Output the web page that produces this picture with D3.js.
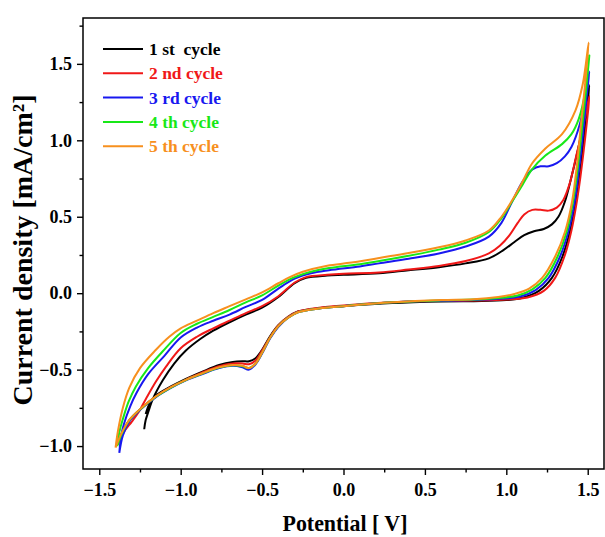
<!DOCTYPE html>
<html>
<head>
<meta charset="utf-8">
<script src="https://cdn.jsdelivr.net/npm/d3@7"></script>
<style>
  body { margin: 0; background: #fff; }
  svg { display: block; }
  text { font-family: "Liberation Serif", "Times New Roman", serif; font-weight: bold; }
</style>
</head>
<body>
<svg id="chart" width="605" height="537"></svg>
<script>
// Cyclic voltammograms, five consecutive cycles: [potential (V), current density (mA/cm²)]
// Each cycle = anodic sweep (left vertex -> +1.5 V) followed by cathodic sweep back.

const cycle1Anodic = [[-1.224,-0.89],[-1.215,-0.83],[-1.20,-0.78],[-1.17,-0.69],[-1.11,-0.57],[-1.04,-0.46],[-0.968,-0.375],[-0.88,-0.30],[-0.8,-0.245],[-0.7,-0.19],[-0.6,-0.14],[-0.5,-0.095],[-0.4,-0.025],[-0.3,0.065],[-0.23,0.10],[-0.1,0.115],[0.0,0.12],[0.218,0.13],[0.4,0.15],[0.586,0.17],[0.75,0.195],[0.893,0.228],[0.98,0.28],[1.05,0.335],[1.11,0.38],[1.17,0.405],[1.23,0.42],[1.28,0.45],[1.32,0.50],[1.36,0.60],[1.40,0.76],[1.45,0.99],[1.51,1.36]];
const cycle1Cathodic = [[1.51,1.36],[1.49,1.15],[1.47,0.95],[1.45,0.76],[1.425,0.58],[1.39,0.40],[1.345,0.24],[1.28,0.10],[1.2,0.015],[1.1,-0.03],[1.0,-0.045],[0.8,-0.052],[0.6,-0.055],[0.3,-0.065],[0.0,-0.085],[-0.15,-0.098],[-0.28,-0.12],[-0.34,-0.155],[-0.40,-0.21],[-0.45,-0.28],[-0.50,-0.37],[-0.54,-0.425],[-0.58,-0.445],[-0.62,-0.445],[-0.68,-0.45],[-0.764,-0.47],[-0.87,-0.515],[-0.968,-0.56],[-1.06,-0.61],[-1.152,-0.67],[-1.19,-0.72],[-1.215,-0.79]];

const cycle2Anodic = [[-1.385,-0.99],[-1.35,-0.91],[-1.30,-0.84],[-1.26,-0.78],[-1.213,-0.69],[-1.15,-0.575],[-1.09,-0.48],[-1.0,-0.36],[-0.9,-0.285],[-0.8,-0.23],[-0.7,-0.18],[-0.6,-0.13],[-0.5,-0.085],[-0.4,-0.02],[-0.3,0.07],[-0.23,0.105],[-0.1,0.12],[0.0,0.127],[0.218,0.135],[0.4,0.155],[0.586,0.178],[0.75,0.21],[0.893,0.26],[0.96,0.31],[1.02,0.38],[1.07,0.46],[1.11,0.515],[1.16,0.545],[1.21,0.545],[1.26,0.54],[1.31,0.56],[1.35,0.61],[1.39,0.72],[1.43,0.90],[1.47,1.08],[1.51,1.29]];
const cycle2Cathodic = [[1.51,1.29],[1.495,1.12],[1.475,0.93],[1.455,0.76],[1.43,0.58],[1.40,0.41],[1.36,0.25],[1.30,0.10],[1.23,0.015],[1.13,-0.028],[1.0,-0.042],[0.8,-0.048],[0.6,-0.05],[0.3,-0.06],[0.0,-0.08],[-0.15,-0.095],[-0.28,-0.12],[-0.34,-0.155],[-0.40,-0.21],[-0.45,-0.285],[-0.50,-0.375],[-0.54,-0.44],[-0.58,-0.465],[-0.62,-0.46],[-0.68,-0.46],[-0.764,-0.477],[-0.87,-0.52],[-0.968,-0.565],[-1.06,-0.615],[-1.152,-0.675],[-1.24,-0.75],[-1.316,-0.83],[-1.36,-0.91],[-1.385,-0.99]];

const cycle3Anodic = [[-1.377,-1.045],[-1.365,-0.93],[-1.35,-0.86],[-1.31,-0.74],[-1.27,-0.65],[-1.2,-0.53],[-1.1,-0.41],[-1.0,-0.29],[-0.9,-0.225],[-0.8,-0.18],[-0.7,-0.14],[-0.6,-0.09],[-0.5,-0.044],[-0.4,0.03],[-0.3,0.095],[-0.2,0.13],[-0.089,0.15],[0.1,0.175],[0.218,0.195],[0.4,0.225],[0.586,0.26],[0.75,0.305],[0.893,0.37],[0.97,0.46],[1.036,0.60],[1.1,0.73],[1.16,0.81],[1.21,0.83],[1.26,0.83],[1.31,0.85],[1.36,0.895],[1.40,0.956],[1.45,1.10],[1.48,1.25],[1.51,1.45]];
const cycle3Cathodic = [[1.51,1.45],[1.49,1.25],[1.47,1.03],[1.445,0.80],[1.42,0.60],[1.38,0.40],[1.33,0.24],[1.26,0.10],[1.18,0.02],[1.09,-0.02],[0.98,-0.035],[0.8,-0.045],[0.6,-0.05],[0.3,-0.06],[0.0,-0.085],[-0.15,-0.10],[-0.28,-0.125],[-0.34,-0.16],[-0.40,-0.22],[-0.45,-0.295],[-0.50,-0.395],[-0.54,-0.465],[-0.58,-0.50],[-0.62,-0.485],[-0.68,-0.475],[-0.764,-0.49],[-0.87,-0.53],[-0.968,-0.57],[-1.06,-0.62],[-1.152,-0.68],[-1.24,-0.755],[-1.316,-0.84],[-1.355,-0.93],[-1.377,-1.045]];

const cycle4Anodic = [[-1.39,-1.00],[-1.375,-0.90],[-1.357,-0.83],[-1.32,-0.71],[-1.275,-0.61],[-1.2,-0.49],[-1.11,-0.38],[-1.0,-0.26],[-0.9,-0.20],[-0.8,-0.155],[-0.7,-0.11],[-0.6,-0.06],[-0.5,-0.015],[-0.4,0.05],[-0.3,0.105],[-0.2,0.14],[-0.089,0.165],[0.1,0.19],[0.3,0.225],[0.586,0.285],[0.75,0.33],[0.893,0.40],[0.97,0.49],[1.036,0.60],[1.1,0.71],[1.158,0.81],[1.24,0.90],[1.342,0.975],[1.40,1.04],[1.445,1.14],[1.485,1.32],[1.51,1.555]];
const cycle4Cathodic = [[1.51,1.555],[1.49,1.33],[1.465,1.08],[1.44,0.83],[1.41,0.60],[1.37,0.40],[1.315,0.24],[1.24,0.10],[1.16,0.025],[1.07,-0.015],[0.97,-0.03],[0.8,-0.042],[0.6,-0.047],[0.3,-0.06],[0.0,-0.085],[-0.15,-0.10],[-0.28,-0.125],[-0.34,-0.16],[-0.40,-0.215],[-0.45,-0.29],[-0.50,-0.39],[-0.54,-0.46],[-0.58,-0.49],[-0.62,-0.478],[-0.68,-0.472],[-0.764,-0.487],[-0.87,-0.527],[-0.968,-0.568],[-1.06,-0.617],[-1.152,-0.677],[-1.24,-0.752],[-1.316,-0.832],[-1.36,-0.915],[-1.39,-1.00]];

const cycle5Anodic = [[-1.40,-1.01],[-1.385,-0.90],[-1.355,-0.75],[-1.316,-0.62],[-1.25,-0.49],[-1.152,-0.37],[-1.07,-0.285],[-1.0,-0.23],[-0.9,-0.18],[-0.8,-0.13],[-0.7,-0.085],[-0.6,-0.04],[-0.5,0.005],[-0.4,0.065],[-0.33,0.105],[-0.25,0.14],[-0.1,0.18],[0.05,0.20],[0.3,0.245],[0.586,0.30],[0.75,0.345],[0.893,0.41],[0.97,0.50],[1.036,0.608],[1.1,0.73],[1.158,0.848],[1.24,0.946],[1.342,1.04],[1.425,1.196],[1.47,1.37],[1.506,1.64]];
const cycle5Cathodic = [[1.506,1.64],[1.485,1.38],[1.46,1.12],[1.435,0.85],[1.404,0.60],[1.36,0.40],[1.30,0.24],[1.22,0.10],[1.14,0.03],[1.05,-0.005],[0.95,-0.025],[0.8,-0.04],[0.6,-0.045],[0.3,-0.06],[0.0,-0.085],[-0.15,-0.10],[-0.28,-0.125],[-0.34,-0.16],[-0.40,-0.215],[-0.45,-0.29],[-0.50,-0.39],[-0.54,-0.46],[-0.58,-0.49],[-0.62,-0.475],[-0.68,-0.47],[-0.764,-0.485],[-0.87,-0.525],[-0.968,-0.567],[-1.06,-0.615],[-1.152,-0.675],[-1.24,-0.75],[-1.316,-0.83],[-1.365,-0.92],[-1.40,-1.01]];

const cycleLabels = ["1 st  cycle", "2 nd cycle", "3 rd cycle", "4 th cycle", "5 th cycle"];
const cycleColors = ["#000000", "#f01818", "#1818f0", "#18e818", "#f7901e"];

const xTicks = [-1.5, -1.0, -0.5, 0.0, 0.5, 1.0, 1.5];
const xMinorTicks = [-1.25, -0.75, -0.25, 0.25, 0.75, 1.25];
const yTicks = [-1.0, -0.5, 0.0, 0.5, 1.0, 1.5];
const yMinorTicks = [-0.75, -0.25, 0.25, 0.75, 1.25, 1.75];

const cycles = [
  cycle1Anodic.concat(cycle1Cathodic.slice(1)),
  cycle2Anodic.concat(cycle2Cathodic.slice(1)),
  cycle3Anodic.concat(cycle3Cathodic.slice(1)),
  cycle4Anodic.concat(cycle4Cathodic.slice(1)),
  cycle5Anodic.concat(cycle5Cathodic.slice(1))
];

const svg = d3.select("#chart");
const plot = { left: 83, right: 604, top: 18, bottom: 469 };

const x = d3.scaleLinear().domain([-1.6, 1.6]).range([plot.left, plot.right]);
const y = d3.scaleLinear().domain([-1.15, 1.8]).range([plot.bottom, plot.top]);
const fmt = d3.format(".1f");

// axes: major ticks with labels, minor ticks without
svg.append("g").attr("transform", `translate(0,${plot.bottom})`)
  .call(d3.axisBottom(x).tickValues(xTicks).tickSize(6).tickPadding(8).tickFormat(fmt));
svg.append("g").attr("transform", `translate(0,${plot.bottom})`)
  .call(d3.axisBottom(x).tickValues(xMinorTicks).tickSize(3.5).tickFormat(""));
svg.append("g").attr("transform", `translate(${plot.left},0)`)
  .call(d3.axisLeft(y).tickValues(yTicks).tickSize(6).tickPadding(5).tickFormat(fmt));
svg.append("g").attr("transform", `translate(${plot.left},0)`)
  .call(d3.axisLeft(y).tickValues(yMinorTicks).tickSize(3.5).tickFormat(""));

svg.selectAll(".domain").remove();
svg.selectAll(".tick line").attr("stroke", "#000").attr("stroke-width", 1.4);
svg.selectAll(".tick text").attr("font-size", 18).attr("fill", "#000")
  .style("font-family", '"Liberation Serif", serif').style("font-weight", "bold");

// plot frame
svg.append("rect")
  .attr("x", plot.left).attr("y", plot.top)
  .attr("width", plot.right - plot.left).attr("height", plot.bottom - plot.top)
  .attr("fill", "none").attr("stroke", "#000").attr("stroke-width", 1.5);

// curves
const line = d3.line()
  .x(d => x(d[0])).y(d => y(d[1]))
  .curve(d3.curveCatmullRom.alpha(0.5));

svg.append("g").selectAll("path")
  .data(cycles)
  .join("path")
  .attr("d", line)
  .attr("fill", "none")
  .attr("stroke", (d, i) => cycleColors[i])
  .attr("stroke-width", 2)
  .attr("stroke-linejoin", "round");

// legend
const legend = svg.append("g");
cycleLabels.forEach((label, i) => {
  const ly = 49 + i * 24.3;
  legend.append("line")
    .attr("x1", 103).attr("x2", 143).attr("y1", ly).attr("y2", ly)
    .attr("stroke", cycleColors[i]).attr("stroke-width", 2);
  legend.append("text")
    .attr("x", 149).attr("y", ly + 6)
    .attr("font-size", 17.5).attr("fill", cycleColors[i])
    .attr("xml:space", "preserve").style("white-space", "pre")
    .text(label);
});

// axis titles
svg.append("text")
  .attr("x", 345).attr("y", 531)
  .attr("text-anchor", "middle").attr("font-size", 24).attr("fill", "#000")
  .attr("textLength", 125).attr("lengthAdjust", "spacingAndGlyphs")
  .style("white-space", "pre")
  .text("Potential [ V]");

svg.append("text")
  .attr("transform", "translate(32,250) rotate(-90)")
  .attr("text-anchor", "middle").attr("font-size", 28).attr("fill", "#000")
  .text("Current density [mA/cm²]");
</script>
</body>
</html>
